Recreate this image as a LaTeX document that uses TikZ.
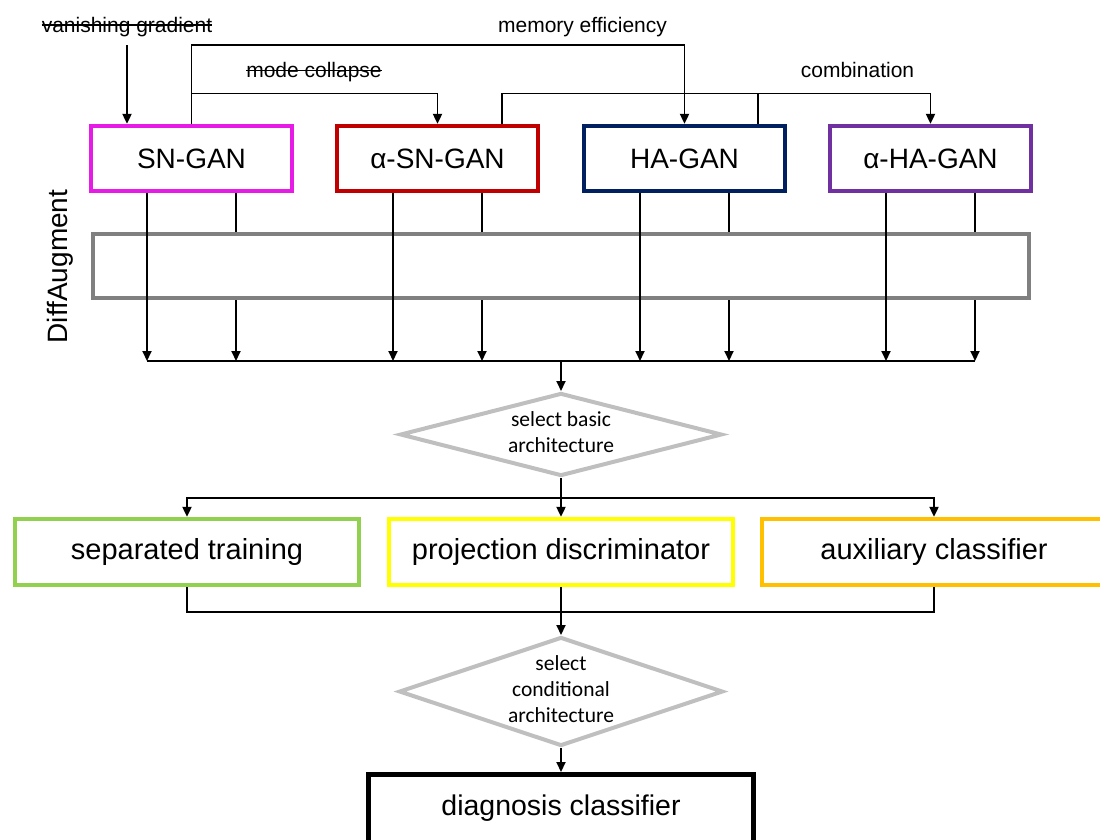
\documentclass[tikz,border=0pt]{standalone}
\usepackage{fontspec}
\setmainfont{Liberation Sans}
\newfontfamily\calibri{Carlito}
\usetikzlibrary{arrows.meta,shapes.geometric}
\definecolor{sncol}{HTML}{E61CE6}
\definecolor{asncol}{HTML}{C00000}
\definecolor{hacol}{HTML}{002060}
\definecolor{ahacol}{HTML}{7030A0}
\definecolor{augcol}{HTML}{808080}
\definecolor{selcol}{HTML}{BFBFBF}
\definecolor{sepcol}{HTML}{92D050}
\definecolor{projcol}{HTML}{FFFF00}
\definecolor{auxcol}{HTML}{FFC000}
\newcommand{\dtext}[1]{\smash{\makebox[0pt]{\raisebox{-0.25em}{\begin{tabular}{@{}c@{}}#1\end{tabular}}}}}

\begin{document}
\begin{tikzpicture}[x=1pt,y=-1pt,
  gan/.style={draw=#1, line width=4.3pt, minimum width=201pt, minimum height=65pt, inner sep=0pt, font=\fontsize{28}{34}\selectfont},
  cond/.style={draw=#1, line width=4.3pt, minimum width=344pt, minimum height=66pt, inner sep=0pt, font=\fontsize{29}{35}\selectfont},
  lbl/.style={anchor=base, inner sep=0pt, font=\fontsize{21}{25}\selectfont},
  strike/.style={line width=1.4pt},
  choice/.style={diamond, draw=selcol, line width=4pt, inner sep=0pt, font=\calibri\fontsize{21.5}{26}\selectfont},
  wire/.style={line width=1.9pt},
  arr/.style={wire, -{Triangle[length=10pt,width=9pt]}}]
\useasboundingbox (0,0) rectangle (1100,839);

\node [gan=sncol] (sngan) at (191.5,158.5) {SN-GAN};
\node [gan=asncol] (asngan) at (437.5,158.5) {α-SN-GAN};
\node [gan=hacol] (hagan) at (684.5,158.5) {HA-GAN};
\node [gan=ahacol] (ahagan) at (930.5,158.5) {α-HA-GAN};

\node [lbl] (vg) at (127,32) {vanishing gradient};
\node [lbl] (me) at (582.5,32) {memory efficiency};
\node [lbl] (mc) at (314,77.3) {mode collapse};
\node [lbl] (comb) at (857.5,77.3) {combination};
\draw[strike] ([yshift=7pt]vg.base west) -- ([yshift=7pt]vg.base east);
\draw[strike] ([yshift=7pt]mc.base west) -- ([yshift=7pt]mc.base east);
\coordinate (rail1) at (0,45);
\coordinate (rail2) at (0,93.5);

\draw[arr] (vg |- rail1) -- (vg |- sngan.north);
\draw[arr] (sngan.north) |- (me |- rail1) -| (hagan.north);
\draw[arr] (sngan.north |- rail2) -| (asngan.north);
\draw[arr] ([xshift=64.5pt]asngan.north) |- (comb |- rail2) -| (ahagan.north);
\draw[wire] ([xshift=73.5pt]hagan.north) -- ([xshift=73.5pt]hagan.north |- rail2);

\node [draw=augcol, line width=4.5pt, minimum width=936pt, minimum height=64pt] (aug) at (561,266) {};
\node [rotate=90, inner sep=0pt, font=\fontsize{28}{34}\selectfont] (augtext) at (60.5,266.5) {DiffAugment};

\coordinate (bus) at (561,361);
\foreach \g in {sngan,asngan,hagan,ahagan} {
  \draw[arr] ([xshift=-44.5pt]\g.south) -- ([xshift=-44.5pt]\g.south |- bus);
  \draw[wire] ([xshift=44.5pt]\g.south) -- ([xshift=44.5pt]\g.south |- aug.north);
  \draw[arr] ([xshift=44.5pt]\g.south |- aug.south) -- ([xshift=44.5pt]\g.south |- bus);
}
\draw[wire] ([xshift=-44.5pt]sngan.south |- bus) -- ([xshift=44.5pt]ahagan.south |- bus);

\node [choice, aspect=3.88, minimum width=322pt, minimum height=83pt] (sel1) at (561,434.5) {\dtext{select basic\\architecture}};
\draw[arr] (bus) -- (sel1.north);

\node [cond=sepcol] (sep) at (187,552) {separated training};
\node [cond=projcol] (proj) at (561,552) {projection discriminator};
\node [cond=auxcol] (aux) at (934,552) {auxiliary classifier};

\coordinate (split) at (561,498);
\draw[wire] (sel1.south) -- (split);
\draw[arr] (split) -| (sep.north);
\draw[arr] (split) -| (aux.north);
\draw[arr] (split) -- (proj.north);

\node [choice, aspect=2.97, minimum width=324pt, minimum height=109pt] (sel2) at (561,691.5) {\dtext{select\\conditional\\architecture}};

\coordinate (merge) at (561,612);
\draw[wire] (sep.south) |- (merge) -| (aux.south);
\draw[arr] (proj.south) -- (sel2.north);

\node [draw=black, line width=5pt, minimum width=385pt, minimum height=68pt, anchor=north, font=\fontsize{28.5}{34}\selectfont] (diag) at (561,772) {diagnosis classifier};
\draw[arr] (sel2.south) -- (diag.north);

\end{tikzpicture}
\end{document}
